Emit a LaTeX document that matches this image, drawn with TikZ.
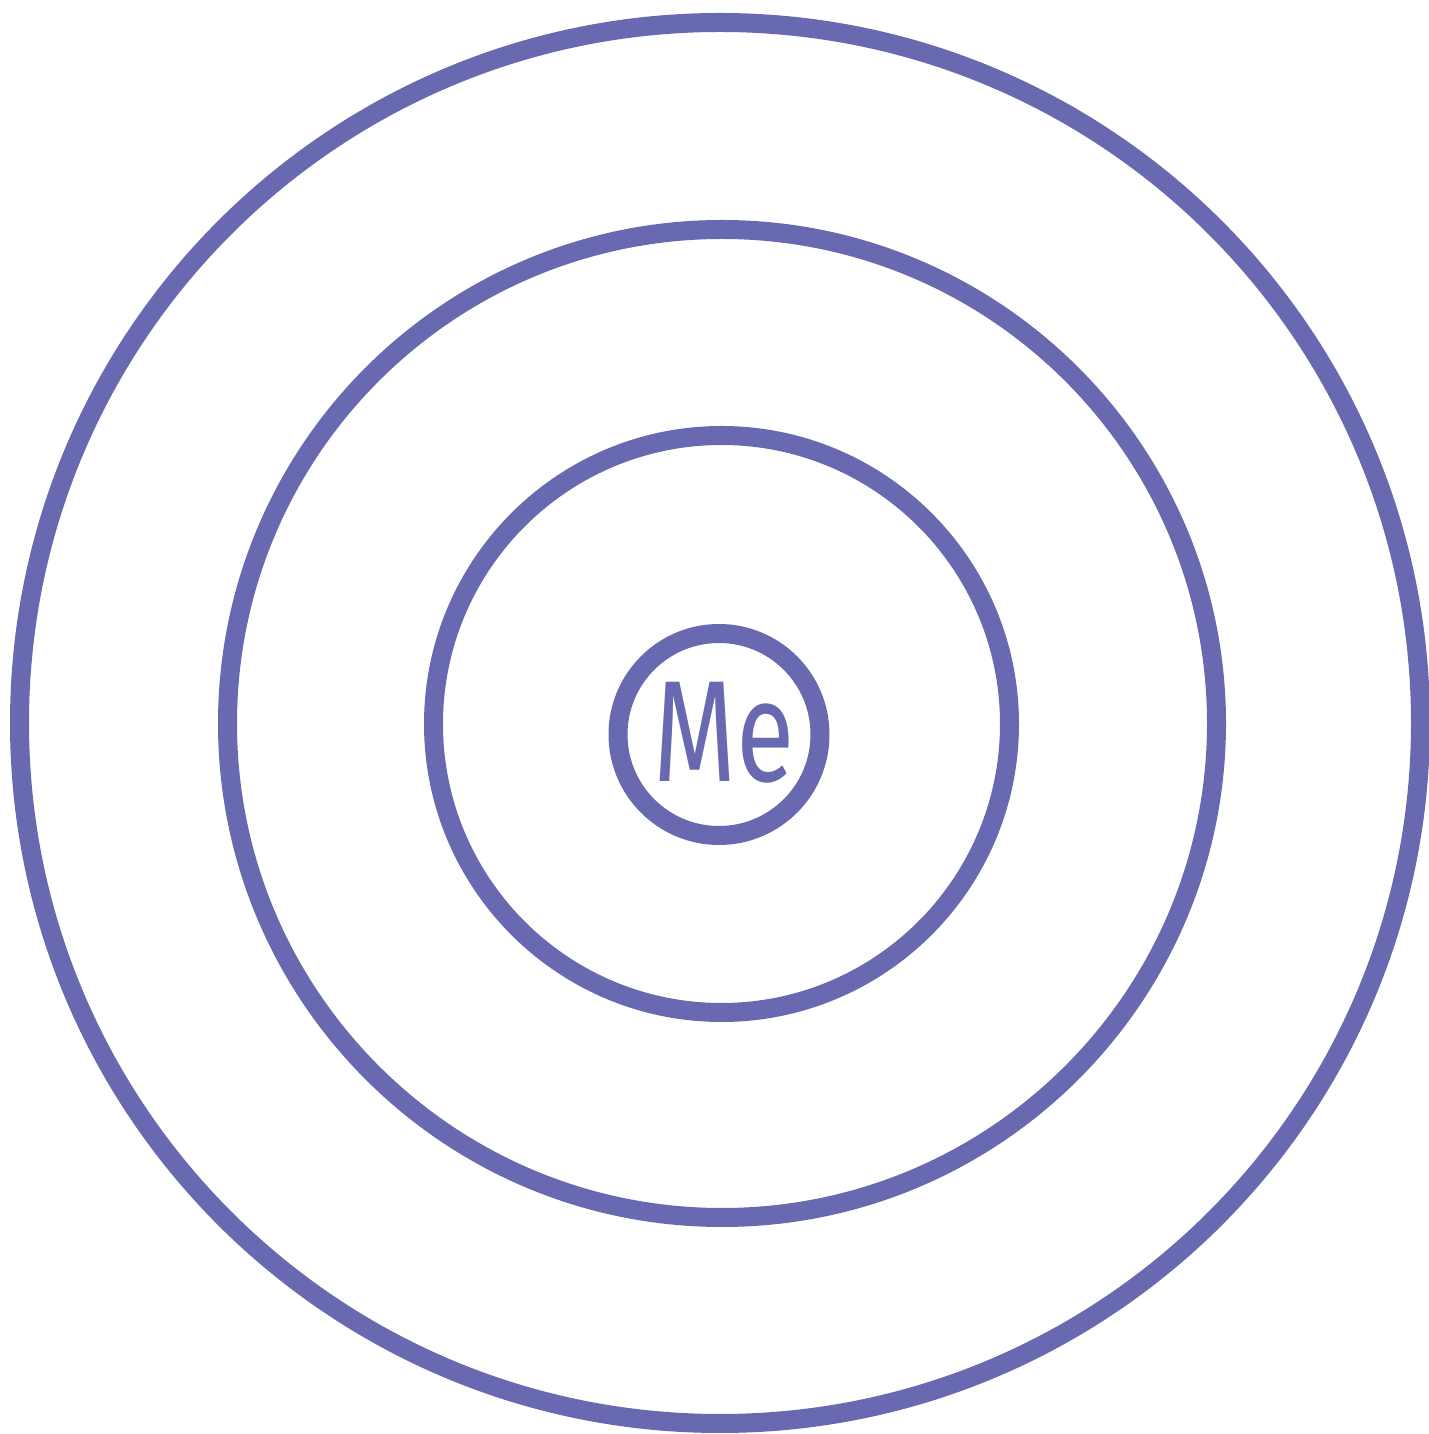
\documentclass[tikz,border=0pt]{standalone}
\usepackage{fontspec}
\usepackage{tikz}
\newfontfamily\mefont[FakeStretch=0.74]{Fira Sans}
\definecolor{ringblue}{RGB}{104,105,176}
\tikzset{ring/.style={draw=ringblue, line width=0.19cm}}

\begin{document}
\begin{tikzpicture}
    % Marco
    \useasboundingbox (0,0) rectangle (14.29,14.34);
    % Anillos exteriores
    \draw[ring] (7.20,7.11) circle (7.005);
    \draw[ring] (7.22,7.105) ellipse (4.945 and 4.94);
    \draw[ring] (7.215,7.10) ellipse (2.88 and 2.885);
    % Circulo central
    \draw[ring] (7.19,6.995) circle (1.01);
    % Etiqueta
    \node[ringblue, anchor=base, inner sep=0pt, font=\mefont\fontsize{41}{41}\selectfont] (me) at (7.24,6.52) {Me};
\end{tikzpicture}
\end{document}
